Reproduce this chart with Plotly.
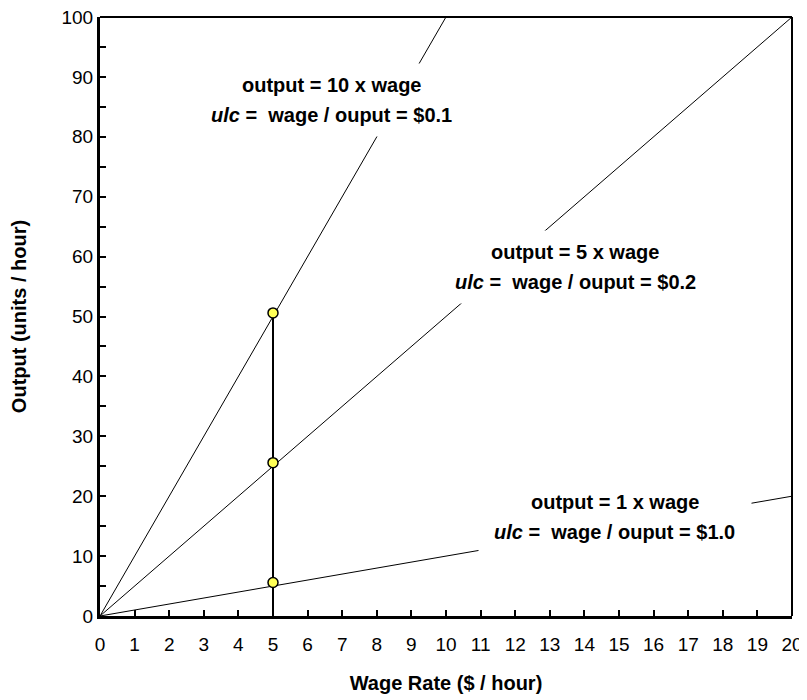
import plotly.graph_objects as go

# Data
wage = [0, 20]
multipliers = [10, 5, 1]
point_wage = [5, 5, 5]
point_output = [50.6, 25.6, 5.6]
drop_x = [5, 5]
drop_y = [0, 50.6]
x_ticks = list(range(0, 21))
y_ticks = list(range(0, 101, 10))

label_line1 = ["output = 10 x wage", "output = 5 x wage", "output = 1 x wage"]
label_line2 = ["<i>ulc</i> =&nbsp; wage / ouput = $0.1",
               "<i>ulc</i> =&nbsp; wage / ouput = $0.2",
               "<i>ulc</i> =&nbsp; wage / ouput = $1.0"]
label_x = [6.68, 13.73, 14.87]
label_y1 = [88.6, 60.8, 19.0]
label_y2 = [83.6, 55.8, 14.0]

FONT = "Liberation Sans, Arial, sans-serif"

fig = go.Figure()
for m in multipliers:
    fig.add_trace(go.Scatter(x=wage, y=[w * m for w in wage], mode="lines",
                             line=dict(color="black", width=1), hoverinfo="skip"))
fig.add_trace(go.Scatter(x=drop_x, y=drop_y, mode="lines",
                         line=dict(color="black", width=2), hoverinfo="skip"))
fig.add_trace(go.Scatter(x=point_wage, y=point_output, mode="markers",
                         marker=dict(color="#FFFF55", size=10,
                                     line=dict(color="black", width=1.5)),
                         cliponaxis=False))

for x_, y1, y2, t1, t2 in zip(label_x, label_y1, label_y2, label_line1, label_line2):
    # white text box behind the label
    fig.add_annotation(x=x_, y=(y1 + y2) / 2, text="&nbsp;", showarrow=False,
                       width=262, height=62, bgcolor="white", borderpad=5,
                       font=dict(family=FONT, size=20))
    fig.add_annotation(x=x_, y=y1, text="<b>" + t1 + "</b>", showarrow=False,
                       font=dict(family=FONT, size=20, color="black"))
    fig.add_annotation(x=x_, y=y2, text="<b>" + t2 + "</b>", showarrow=False,
                       font=dict(family=FONT, size=20, color="black"))

fig.add_shape(type="line", xref="paper", yref="paper", x0=0, x1=1, y0=1, y1=1,
              line=dict(color="black", width=2))
fig.add_shape(type="line", xref="paper", yref="paper", x0=1, x1=1, y0=0, y1=1,
              line=dict(color="black", width=2))

fig.update_layout(
    width=799, height=692,
    margin=dict(l=92, r=15, t=9, b=84),
    plot_bgcolor="white", paper_bgcolor="white",
    showlegend=False,
    font=dict(family=FONT, size=20, color="black"),
    xaxis=dict(range=[0, 20], tickvals=x_ticks, ticks="inside", ticklen=6,
               tickwidth=2, tickcolor="black", showline=True, linewidth=3,
               linecolor="black", showgrid=False, zeroline=False,
               tickfont=dict(family=FONT, size=19), ticklabeloverflow="allow",
               ticklabelstandoff=9, automargin=False,
               title=dict(text="<b>Wage Rate ($ / hour)</b>",
                          font=dict(family=FONT, size=20), standoff=23)),
    yaxis=dict(range=[0, 100], tickvals=y_ticks, ticks="inside", ticklen=6,
               tickwidth=2, tickcolor="black", showline=True, linewidth=3,
               linecolor="black", showgrid=False, zeroline=False,
               tickfont=dict(family=FONT, size=19), ticklabeloverflow="allow",
               automargin=False,
               minor=dict(tickvals=list(range(5, 100, 10)), ticks="inside",
                          ticklen=6, tickwidth=2, tickcolor="black", showgrid=False),
               title=dict(text="<b>Output (units / hour)</b>",
                          font=dict(family=FONT, size=20), standoff=42)),
)

fig.write_html("out.html")
